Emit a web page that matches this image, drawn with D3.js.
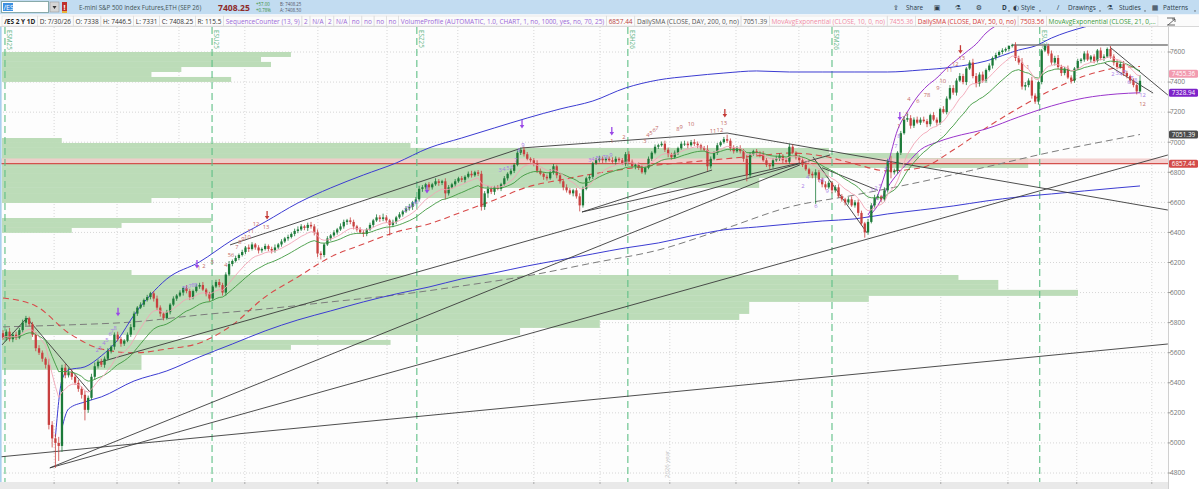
<!DOCTYPE html>
<html>
<head>
<meta charset="utf-8">
<script src="https://cdn.jsdelivr.net/npm/d3@7"></script>
<style>
  body { margin: 0; background: #fff; overflow: hidden; }
  svg { display: block; font-family: "Open Sans", "DejaVu Sans", sans-serif; }
</style>
</head>
<body>
<div id="chart"></div>
<script>
// ---- daily candles (/ES, open = previous close) ----
const firstOpen = 5730;
const closes = [
  5700,5740,5690,5720,5700,5750,5800,5830,5790,5720,
  5630,5600,5560,5520,5120,5030,5000,4980,5500,5450,
  5470,5440,5400,5360,5320,5220,5300,5440,5510,5540,
  5520,5560,5610,5640,5720,5690,5660,5680,5720,5770,
  5860,5900,5920,5950,5970,5995,5960,5900,5860,5830,
  5870,5920,5960,5980,6000,6030,6010,5970,6010,6040,
  6050,6020,5990,5960,6040,6070,6050,6000,6120,6190,
  6210,6230,6250,6270,6300,6290,6320,6300,6280,6290,
  6310,6290,6280,6300,6320,6340,6360,6370,6390,6410,
  6420,6440,6430,6450,6440,6400,6260,6250,6320,6360,
  6380,6400,6420,6440,6470,6480,6470,6440,6420,6400,
  6390,6420,6450,6480,6500,6490,6500,6480,6450,6470,
  6500,6520,6540,6560,6570,6600,6620,6690,6700,6720,
  6700,6720,6740,6730,6740,6660,6700,6720,6740,6760,
  6750,6770,6790,6780,6800,6790,6570,6660,6690,6670,
  6700,6690,6720,6760,6790,6810,6850,6930,6950,6920,
  6890,6880,6860,6810,6790,6770,6760,6800,6840,6780,
  6740,6700,6680,6660,6680,6640,6580,6690,6760,6770,
  6860,6880,6890,6880,6890,6880,6870,6890,6880,6860,
  6920,6870,6840,6850,6830,6800,6830,6890,6930,6970,
  6980,6990,6950,6920,6900,6930,6960,6990,6990,6980,
  7000,6990,6980,6960,6950,6840,6890,6930,6980,7000,
  7020,7010,6960,6940,6960,6940,6890,6780,6920,6940,
  6930,6920,6880,6850,6840,6880,6890,6910,6880,6870,
  6970,6930,6900,6880,6850,6820,6790,6780,6800,6750,
  6720,6700,6730,6680,6700,6640,6620,6600,6620,6580,
  6600,6530,6460,6400,6470,6580,6630,6640,6620,6680,
  6870,6800,6810,6930,7060,7150,7160,7110,7150,7130,
  7150,7140,7120,7180,7150,7130,7220,7200,7290,7360,
  7330,7410,7440,7400,7490,7530,7440,7390,7450,7410,
  7480,7510,7560,7580,7600,7610,7620,7640,7645,7560,
  7530,7370,7380,7410,7310,7270,7400,7610,7640,7590,
  7530,7560,7500,7460,7490,7430,7410,7490,7540,7550,
  7590,7550,7570,7540,7610,7560,7570,7620,7570,7530,
  7500,7520,7460,7440,7410,7380,7338,7408.25
];
// wick length above / below the body, in points
const wickUp = [
  20,15,25,15,20,15,20,15,10,15, 15,20,15,10,40,25,30,40,20,25,
  30,20,15,20,15,25,15,20,25,15, 20,15,20,10,15,20,15,10,15,20,
  15,10,15,10,15,10,15,20,15,10, 15,10,15,10,15,10,20,15,10,15,
  15,20,10,15,10,15,20,15,15,20, 10,15,10,15,10,20,15,10,15,10,
  15,10,15,20,10,15,10,15,10,15, 20,15,10,15,20,15,20,15,10,15,
  10,15,10,20,15,10,20,15,10,15, 15,10,15,10,20,15,25,15,10,15,
  10,15,10,15,20,10,15,20,15,10, 15,10,20,15,10,20,15,10,15,10,
  15,10,15,20,10,15,20,15,20,15, 10,15,10,15,10,15,10,15,15,20,
  15,10,15,20,15,10,15,20,15,10, 15,10,20,15,10,15,20,15,10,15,
  10,15,20,15,10,15,20,15,10,15, 15,20,15,10,15,20,10,15,10,15,
  10,15,20,15,10,15,10,15,20,15, 15,20,15,10,15,30,15,10,15,10,
  15,30,15,20,15,20,15,25,15,10, 15,10,20,15,10,15,20,15,10,15,
  20,15,10,15,20,15,10,15,20,15, 15,20,15,10,15,20,15,10,15,20,
  15,20,15,10,20,15,20,15,10,20, 20,40,15,10,15,20,30,20,15,20,
  15,20,15,10,20,15,10,20,15,20, 20,15,20,15,10,15,25,20,15,20,
  10,15,10,15,10,15,10,5,10,20, 15,30,20,15,25,15,10,10,10,15,
  20,15,20,15,10,20,15,10,15,10, 15,20,10,15,10,20,15,10,20,15,
  20,15,20,15,10,15,10,38.25
];
const wickDn = [
  15,20,15,20,15,10,15,20,15,15, 20,15,20,25,30,60,166,100,40,20,
  15,20,15,20,25,70,20,15,20,15, 15,20,10,15,20,15,20,15,10,15,
  20,15,10,15,10,15,20,15,20,15, 10,15,10,15,10,20,15,20,15,10,
  15,10,15,20,15,10,15,20,20,10, 15,10,15,10,15,20,10,15,20,15,
  10,15,20,15,10,15,10,15,10,15, 15,10,15,20,15,20,25,30,15,10,
  15,10,15,10,15,20,15,20,15,10, 20,15,10,15,10,20,15,15,70,15,
  15,10,15,10,15,20,10,15,20,15, 20,15,10,20,15,40,15,10,15,10,
  15,20,10,15,10,15,25,20,30,15, 20,10,15,10,15,10,15,10,15,15,
  10,15,20,15,10,20,15,10,15,20, 15,20,15,10,20,15,40,15,10,15,
  15,10,15,20,15,10,15,20,15,10, 20,15,10,20,15,10,15,10,15,10,
  15,10,15,20,15,10,15,10,15,20, 10,15,20,15,10,30,15,10,15,10,
  10,15,20,15,10,15,20,40,15,10, 15,20,10,15,20,15,10,15,20,15,
  15,10,15,20,15,10,15,20,190,15, 20,15,10,20,15,10,15,20,15,10,
  15,20,15,35,15,10,20,15,20,15, 15,40,15,20,15,10,15,20,15,10,
  15,10,20,15,10,20,15,10,15,10, 15,20,10,15,20,10,15,25,20,15,
  15,10,20,15,10,15,10,15,10,20, 15,20,25,15,20,15,20,15,10,15,
  15,20,15,20,15,10,20,15,10,15, 15,10,20,15,10,15,20,10,15,20,
  15,10,20,15,20,15,20,7
];

// ---- studies: [bar index, price] ----
const sma50 = [[0,5964],[10,5911],[20,5732],[30,5625],[40,5599],[50,5625],[60,5665],[70,5785],[80,5971],[90,6104],
  [100,6237],[110,6323],[120,6403],[130,6456],[140,6536],[150,6616],[160,6702],[170,6749],[180,6789],[190,6822],
  [200,6849],[210,6869],[220,6889],[230,6909],[240,6928],[250,6909],[260,6855],[270,6809],[280,6829],[290,6948],
  [300,7095],[310,7228],[320,7347],[330,7440],[340,7494],[347,7503.56]];
const sma200 = [[0,5772],[20,5785],[40,5805],[60,5851],[80,5891],[100,5938],[120,5984],[140,6044],[160,6111],
  [180,6197],[200,6283],[220,6423],[240,6569],[260,6649],[280,6736],[300,6835],[320,6935],[340,7022],[347,7051.39]];
const blueUpper = [[16,5040],[18,5419],[20,5486],[25,5506],[30,5579],[35,5685],[40,5851],[45,5984],[50,6091],
  [60,6204],[70,6350],[80,6470],[90,6596],[100,6696],[110,6782],[120,6862],[130,6962],[140,7028],[150,7095],
  [160,7161],[170,7221],[180,7274],[190,7361],[200,7414],[210,7440],[220,7460],[230,7474],[240,7467],[250,7467],
  [260,7467],[270,7467],[280,7480],[290,7500],[300,7540],[310,7613],[315,7640],[320,7693],[330,7766],[340,7813],[347,7846]];
const blueLower = [[18,5100],[20,5226],[25,5273],[30,5306],[40,5412],[50,5479],[60,5572],[70,5658],[80,5745],
  [90,5818],[100,5878],[110,5938],[120,5991],[130,6037],[140,6091],[150,6131],[160,6177],[170,6217],[180,6257],
  [190,6297],[200,6330],[210,6377],[220,6417],[230,6436],[240,6456],[250,6476],[260,6490],[270,6523],[280,6549],
  [290,6576],[300,6609],[310,6636],[320,6656],[330,6676],[340,6696],[347,6709]];
const purpleUpper = [[264,6516],[267,6649],[270,6849],[273,7081],[276,7201],[279,7301],[282,7374],[285,7427],
  [288,7493],[291,7547],[294,7600],[297,7653],[300,7726],[305,7800],[310,7866]];
const purpleLower = [[264,6500],[267,6580],[270,6700],[273,6790],[276,6860],[280,6950],[285,7000],[290,7035],
  [300,7088],[310,7168],[320,7241],[330,7294],[340,7321],[347,7328.94]];

// ---- volume profile rows (price from / to, relative volume) ----
const vpLo = [7567,7534,7500,7467,7434,7401,6995,6962,6928,6895,6862,6829,6795,6762,6729,6696,6662,6629,6596,
  6463,6430,6397,6117,6084,6051,6018,5978,5938,5898,5858,5818,5765,5718,5685,5652,5619,5585,5519,5486];
const vpHi = [7600,7567,7534,7500,7467,7434,7028,6995,6962,6928,6895,6862,6829,6795,6762,6729,6696,6662,6629,
  6496,6463,6430,6150,6117,6084,6051,6018,5978,5938,5898,5858,5818,5765,5718,5685,5652,5619,5585,5519];
const vpVol = [29,26,27,18,15,23,6,41,83,92,103,103,83,83,76,76,48,48,15,21,12,7,13,96,100,100,108,87,75,75,74,60,52,3,39,29,21,14,14];
const pocPrice = 6857.44;

// ---- drawings: [index1, price1, index2, price2] ----
const trendLines = [
  [-1,4907,355.5,5658],[14.3,4834,243.2,6849],[14.3,4834,355.5,6915],[-0.3,5652,7.3,5831],[7.3,5831,26.5,5339],
  [28.7,5532,252.4,6915],[69.3,6317,158.4,6962],[158.4,6962,221,7061],[221,7061,355.5,6549],
  [176.7,6536,216.4,6815],[176.7,6536,243.2,6862],[247.2,6902,263.7,6397],[250,6830,267,6680],
  [337.8,7633,355.5,7314],[336.2,7527,351,7327]
];
const resistance = [307.9, 7647, 355.5, 7647];

// ---- sequence counter marks: [index, price, text, kind] ----
const seqMarks = [
  [59.8,6150,"1","b"],[61.3,6164,"2","b"],[63.8,6190,"3","b"],[68,6170,"4","b"],[69.6,6237,"56","b"],[71.4,6290,"7","b"],
  [72.3,6323,"8","b"],[73.2,6343,"9","b"],[74.6,6357,"10","b"],[75.6,6395,"11","b"],[77.2,6440,"12","b"],[80.3,6423,"13","b"],
  [80.6,6510,"","ra"],
  [28.7,5605,"2","p"],[29.6,5618,"3","p"],[30.8,5652,"4","p"],[31.7,5672,"5","p"],[32.7,5712,"6","p"],[33.3,5732,"7","p"],[34.2,5752,"8","p"],
  [35.1,5865,"","pa"],
  [55.2,6018,"5","p"],[56.1,6024,"6","p"],[57.1,6031,"7","p"],[58,6037,"8","p"],[58.9,6037,"9","p"],[59.2,6184,"","pa"],
  [122.7,6536,"2","p"],[123.6,6550,"3","p"],[124.5,6563,"4","p"],[125.4,6576,"5","p"],[126.3,6590,"6","p"],[129.4,6682,"","pa"],
  [151.7,6802,"3","p"],[152.9,6809,"4","p"],[154.1,6815,"5","p"],[155.3,6822,"6","p"],[156.5,6869,"7","p"],[157.5,6935,"8","p"],[158.7,6968,"9","p"],
  [158.4,7115,"","pa"],
  [179.1,6869,"3","p"],[180,6875,"4","p"],[181.3,6882,"5","p"],[182.2,6882,"6","p"],[183.4,6889,"7","p"],[184.3,6889,"8","p"],[185.5,6902,"9","p"],
  [185.8,7068,"","pa"],
  [185.8,6995,"1","b"],[189.5,7022,"2","b"],[195.9,6995,"3","b"],[196.8,7035,"4","b"],[197.7,7048,"5","b"],[198.7,7068,"6","b"],
  [199.6,7081,"7","b"],[206,7075,"8","b"],[207,7088,"9","b"],[210,7108,"10","b"],[216.7,7061,"11","b"],[218.8,7068,"12","b"],
  [220,7115,"13","b"],[220.3,7188,"","ra"],
  [244.1,6696,"2","p"],[245.6,6755,"4","p"],[248.1,6563,"6","p"],[249.3,6729,"7","p"],[250.2,6735,"8","p"],[251.5,6662,"9","p"],
  [265.2,6669,"1","p"],[266.4,6682,"2","p"],[267.6,6696,"3","p"],[269.5,6815,"4","p"],[270.4,6862,"5","p"],[272.5,6962,"7","p"],
  [273.4,7028,"8","p"],[273.7,7168,"","pa"],
  [273.4,7095,"1","b"],[274.9,7148,"2","b"],[275.9,7175,"3","b"],[276.5,7274,"4","b"],[279.2,7261,"6","b"],[282,7301,"78","b"],
  [285.3,7347,"9","b"],[286.8,7394,"10","b"],[288.8,7470,"11","b"],[290.6,7508,"12","b"],[292.6,7548,"13","b"],[292.2,7612,"","ra"],
  [312.8,7487,"1","b"],
  [338.7,7440,"2","p"],[340,7447,"3","p"],[341.2,7440,"4","p"],[342.4,7454,"5","p"],[343.6,7387,"6","p"],[344.5,7414,"7","p"],
  [345.7,7401,"8","p"],[347.8,7301,"12","p"],[347.8,7241,"12","b"]
];

// ---- axis / calendar ----
const priceTicks = [4800,5000,5200,5400,5600,5800,6000,6200,6400,6600,6800,7000,7200,7400,7600];
const monthIdx = [15.6,34.8,53.7,73.8,96.1,117.2,138.8,162,182.2,203.5,223.7,242.9,264,286.2,306.7,327.7,350.6];
const rollIdx = [0.6,63.8,126.3,190.7,253,316.4];
const rollNames = ["ESM25","ESU25","ESZ25","ESH26","ESM26","ESU26"];
const yearIdx = 202.6;
const priceTags = [[7455.36,"#f29bb0"],[7328.94,"#7d22c9"],[7051.39,"#4b4b4b"],[6857.44,"#d34a48"]];

const W = 1199, H = 489;
const plotR = 1168, plotT = 27, plotB = 482;

const svg = d3.select("#chart").append("svg").attr("width", W).attr("height", H);

const x = d3.scaleLinear().domain([0, closes.length - 1]).range([3, 1140]);
const y = d3.scaleLinear().domain([4800, 7600]).range([473, 52]);
const step = x(1) - x(0);

svg.append("defs").append("clipPath").attr("id", "plot")
  .append("rect").attr("x", 0).attr("y", plotT).attr("width", plotR).attr("height", plotB - plotT);

svg.append("rect").attr("width", W).attr("height", H).attr("fill", "#fff");
svg.append("rect").attr("x", 0).attr("y", plotT).attr("width", plotR).attr("height", plotB - plotT).attr("fill", "#fdfdfd");

const plot = svg.append("g").attr("clip-path", "url(#plot)");

// grid
plot.selectAll(".hg").data(priceTicks).enter().append("line")
  .attr("x1", 0).attr("x2", plotR).attr("y1", d => y(d)).attr("y2", d => y(d))
  .attr("stroke", "#d6d6d6").attr("stroke-dasharray", "1,2");
plot.selectAll(".vg").data(monthIdx).enter().append("line")
  .attr("x1", d => x(d)).attr("x2", d => x(d)).attr("y1", plotT).attr("y2", plotB)
  .attr("stroke", "#d6d6d6").attr("stroke-dasharray", "1,2");

// volume profile
const vpX = d3.scaleLinear().domain([0, d3.max(vpVol)]).range([0, 1076]);
plot.selectAll(".vp").data(vpVol).enter().append("rect")
  .attr("x", 2).attr("y", (d, i) => y(vpHi[i]))
  .attr("width", d => vpX(d)).attr("height", (d, i) => y(vpLo[i]) - y(vpHi[i]))
  .attr("fill", "#bcdcb8");

// point of control
plot.append("rect").attr("x", 0).attr("width", plotR)
  .attr("y", y(6892)).attr("height", y(pocPrice) - y(6892))
  .attr("fill", "#f3cccb").attr("opacity", 0.9);
plot.append("line").attr("x1", 0).attr("x2", plotR)
  .attr("y1", y(pocPrice)).attr("y2", y(pocPrice))
  .attr("stroke", "#d4504c").attr("stroke-width", 1.2);

// contract rollover lines
plot.selectAll(".roll").data(rollIdx).enter().append("line")
  .attr("x1", d => x(d)).attr("x2", d => x(d)).attr("y1", plotT).attr("y2", plotB)
  .attr("stroke", "#5fbf86").attr("stroke-width", 1.1).attr("stroke-dasharray", "7,4");
plot.selectAll(".rollt").data(rollIdx).enter().append("text")
  .attr("transform", d => `translate(${x(d) + 2},${plotT + 3}) rotate(90)`)
  .attr("font-size", 6.3).attr("fill", "#69b98c").text((d, i) => rollNames[i]);
plot.append("text")
  .attr("transform", `translate(${x(yearIdx) + 2},${plotB - 4}) rotate(-90)`)
  .attr("font-size", 6).attr("fill", "#bdbdbd").text("2026 year");

// studies
const lineP = d3.line().x(d => x(d[0])).y(d => y(d[1])).curve(d3.curveMonotoneX);
function study(data, color, dash, w) {
  plot.append("path").datum(data).attr("d", lineP).attr("fill", "none")
    .attr("stroke", color).attr("stroke-width", w || 1)
    .attr("stroke-dasharray", dash || null);
}
study(sma200, "#7c7c7c", "7,4", 1);
study(sma50, "#d84a4a", "6,4", 1.1);
study(blueUpper, "#3c3cd2");
study(blueLower, "#3c3cd2");
study(purpleUpper, "#9a35cc");
study(purpleLower, "#9a35cc");

// drawings
plot.selectAll(".tl").data(trendLines).enter().append("line")
  .attr("x1", d => x(d[0])).attr("y1", d => y(d[1])).attr("x2", d => x(d[2])).attr("y2", d => y(d[3]))
  .attr("stroke", "#3a3a3a").attr("stroke-width", 0.9);
plot.append("line")
  .attr("x1", x(resistance[0])).attr("y1", y(resistance[1])).attr("x2", x(resistance[2])).attr("y2", y(resistance[3]))
  .attr("stroke", "#7a7a7a").attr("stroke-width", 1.6);

// candles
const bars = closes.map((c, i) => {
  const o = i ? closes[i - 1] : firstOpen;
  return { i, o, c, h: Math.max(o, c) + wickUp[i], l: Math.min(o, c) - wickDn[i] };
});
const upCol = "#1c7a39", dnCol = "#c8403f";
const cg = plot.append("g");
cg.selectAll(".wick").data(bars).enter().append("line")
  .attr("x1", d => x(d.i)).attr("x2", d => x(d.i))
  .attr("y1", d => y(d.h)).attr("y2", d => y(d.l))
  .attr("stroke", d => d.c >= d.o ? upCol : dnCol).attr("stroke-width", 0.8);
const bw = step * 0.7;
cg.selectAll(".body").data(bars).enter().append("rect")
  .attr("x", d => x(d.i) - bw / 2).attr("width", bw)
  .attr("y", d => y(Math.max(d.o, d.c)))
  .attr("height", d => Math.max(0.8, Math.abs(y(d.o) - y(d.c))))
  .attr("fill", d => d.c >= d.o ? upCol : dnCol);

// EMAs computed from the closes (study definition: EMA of CLOSE)
function ema(arr, n) {
  const k = 2 / (n + 1), out = [];
  arr.forEach((v, i) => out.push(i ? v * k + out[i - 1] * (1 - k) : v));
  return out;
}
const lineE = d3.line().x((d, i) => x(i)).y(d => y(d));
plot.append("path").datum(ema(closes, 21)).attr("d", lineE).attr("fill", "none")
  .attr("stroke", "#3e993e").attr("stroke-width", 0.9);
plot.append("path").datum(ema(closes, 10)).attr("d", lineE).attr("fill", "none")
  .attr("stroke", "#f2a5b6").attr("stroke-width", 0.9);

// sequence counter
const sg = plot.append("g");
seqMarks.forEach(m => {
  const px = x(m[0]), py = y(m[1]);
  if (m[3] === "pa" || m[3] === "ra") {
    const col = m[3] === "pa" ? "#9a48e6" : "#c43a36";
    sg.append("line").attr("x1", px).attr("x2", px).attr("y1", py - 5).attr("y2", py + 1)
      .attr("stroke", col).attr("stroke-width", 1.3);
    sg.append("path").attr("d", `M${px - 2.3},${py} L${px + 2.3},${py} L${px},${py + 3.5} Z`).attr("fill", col);
  } else {
    sg.append("text").attr("x", px).attr("y", py).attr("text-anchor", "middle")
      .attr("font-size", 5.8).attr("fill", m[3] === "p" ? "#a57ae6" : "#c46a66").text(m[2]);
  }
});

// left edge
svg.append("rect").attr("x", 0).attr("y", plotT).attr("width", 1.6).attr("height", plotB - plotT).attr("fill", "#a9d0ef");

// bottom time strip
svg.append("rect").attr("x", 0).attr("y", plotB).attr("width", plotR).attr("height", H - plotB).attr("fill", "#e9e9e9");
svg.selectAll(".bt").data(monthIdx).enter().append("line")
  .attr("x1", d => x(d)).attr("x2", d => x(d)).attr("y1", plotB).attr("y2", plotB + 2)
  .attr("stroke", "#aaa");

// right price axis
svg.append("rect").attr("x", plotR).attr("y", plotT).attr("width", W - plotR).attr("height", H - plotT).attr("fill", "#fff");
svg.append("line").attr("x1", plotR + 0.5).attr("x2", plotR + 0.5).attr("y1", plotT).attr("y2", H).attr("stroke", "#d0d0d0");
const ax = svg.append("g");
ax.selectAll(".tk").data(priceTicks).enter().append("line")
  .attr("x1", plotR).attr("x2", plotR + 3).attr("y1", d => y(d)).attr("y2", d => y(d)).attr("stroke", "#999");
ax.selectAll(".tt").data(priceTicks).enter().append("text")
  .attr("x", plotR + 2).attr("y", d => y(d) + 2.3).attr("font-size", 6.6).attr("fill", "#777")
  .text(d => d);
const tg = svg.selectAll(".tag").data(priceTags).enter().append("g");
tg.append("rect").attr("x", plotR + 1).attr("y", d => y(d[0]) - 4).attr("width", 29).attr("height", 8)
  .attr("rx", 1.5).attr("fill", d => d[1]);
tg.append("text").attr("x", plotR + 15.5).attr("y", d => y(d[0]) + 2.3).attr("text-anchor", "middle")
  .attr("font-size", 6.3).attr("fill", "#fff").text(d => d[0].toFixed(2));

// ---- header ----
const hd = svg.append("g");
hd.append("rect").attr("width", W).attr("height", 14.5).attr("fill", "#c2dcf1");
hd.append("rect").attr("y", 14.5).attr("width", W).attr("height", plotT - 14.5).attr("fill", "#fbfbfb");
hd.append("line").attr("x1", 0).attr("x2", W).attr("y1", plotT - 0.5).attr("y2", plotT - 0.5).attr("stroke", "#d8d8d8");

// symbol box
hd.append("rect").attr("x", 1.5).attr("y", 1.5).attr("width", 47).attr("height", 11).attr("fill", "#fff").attr("stroke", "#8aa");
hd.append("rect").attr("x", 3).attr("y", 3).attr("width", 10).attr("height", 8).attr("fill", "#3d8fe0");
hd.append("text").attr("x", 3.5).attr("y", 10).attr("font-size", 7).attr("fill", "#fff").text("/ES");
hd.append("rect").attr("x", 50).attr("y", 2).attr("width", 9).attr("height", 10).attr("fill", "#d5d5d5").attr("stroke", "#999").attr("stroke-width", 0.6);
hd.append("path").attr("d", "M52.5,6 L56.5,6 L54.5,9 Z").attr("fill", "#333");
hd.append("rect").attr("x", 62).attr("y", 2).attr("width", 5).attr("height", 9).attr("fill", "#c0302c");
hd.append("text").attr("x", 64.5).attr("y", 9.5).attr("text-anchor", "middle").attr("font-size", 7).attr("font-weight", "bold").attr("fill", "#fff").text("!");
hd.append("rect").attr("x", 62).attr("y", 11).attr("width", 5).attr("height", 2).attr("fill", "#e7b43c");
hd.append("text").attr("x", 79).attr("y", 9.6).attr("font-size", 6.2).attr("fill", "#455").text("E-mini S&P 500 Index Futures,ETH (SEP 26)");
hd.append("text").attr("x", 218).attr("y", 10.6).attr("font-size", 8.6).attr("font-weight", "bold").attr("fill", "#8e2a2a").text("7408.25");
hd.append("text").attr("x", 256).attr("y", 6.2).attr("font-size", 4.4).attr("fill", "#3a8f3a").text("+57.00");
hd.append("text").attr("x", 256).attr("y", 11.8).attr("font-size", 4.4).attr("fill", "#3a8f3a").text("+0.78%");
hd.append("text").attr("x", 280).attr("y", 6.2).attr("font-size", 4.4).attr("fill", "#556").text("B: 7408.25");
hd.append("text").attr("x", 280).attr("y", 11.8).attr("font-size", 4.4).attr("fill", "#556").text("A: 7408.50");

// toolbar
const tb = [[906, "Share"], [1021, "Style"], [1068, "Drawings"], [1119, "Studies"], [1163, "Patterns"]];
hd.selectAll(".tb").data(tb).enter().append("text")
  .attr("x", d => d[0]).attr("y", 9.8).attr("font-size", 6.4).attr("fill", "#2c3b48").text(d => d[1]);
[[896, "⇪"], [937, "▣"], [958, "⚗"], [979, "⚙"], [1016, "◐"], [1058, "/"], [1110, "⚗"], [1155, "▦"]].forEach(ic => {
  hd.append("text").attr("x", ic[0]).attr("y", 10).attr("font-size", 7).attr("fill", "#2f3d4a")
    .attr("text-anchor", "middle").text(ic[1]);
});
hd.append("text").attr("x", 1002).attr("y", 9.8).attr("font-size", 6.4).attr("font-weight", "bold").attr("fill", "#2c3b48").text("D");
[1008, 1039, 1099, 1144, 1194].forEach(cx => {
  hd.append("path").attr("d", `M${cx},10.5 L${cx + 2},10.5 L${cx + 1},12 Z`).attr("fill", "#555");
});

// study bar
const items = [
  ["/ES 2 Y 1D", "#222", true], ["D: 7/30/26", "#333"], ["O: 7338", "#333"], ["H: 7446.5", "#333"], ["L: 7331", "#333"],
  ["C: 7408.25", "#333"], ["R: 115.5", "#333"], ["SequenceCounter (13, 9)", "#9b6ad8"], ["2", "#9b6ad8"], ["N/A", "#9b6ad8"],
  ["2", "#9b6ad8"], ["N/A", "#9b6ad8"], ["no", "#9b6ad8"], ["no", "#9b6ad8"], ["no", "#9b6ad8"], ["no", "#9b6ad8"],
  ["VolumeProfile (AUTOMATIC, 1.0, CHART, 1, no, 1000, yes, no, 70, 25)", "#9b6ad8"], ["6857.44", "#b9433e"],
  ["DailySMA (CLOSE, DAY, 200, 0, no)", "#555"], ["7051.39", "#555"],
  ["MovAvgExponential (CLOSE, 10, 0, no)", "#f08ea6"], ["7455.36", "#f08ea6"],
  ["DailySMA (CLOSE, DAY, 50, 0, no)", "#d23a3a"], ["7503.56", "#d23a3a"],
  ["MovAvgExponential (CLOSE, 21, 0,...", "#3d9a3d"]
];
const pad = 2.2, rowX0 = 2, rowX1 = 1160;
const probe = hd.append("g");
let total = 0;
items.forEach(it => {
  const t = probe.append("text").attr("font-size", 10).attr("font-weight", it[2] ? "bold" : null).text(it[0]);
  total += t.node().getComputedTextLength();
});
probe.remove();
const fs = 10 * (rowX1 - rowX0 - items.length * 2 * pad) / total;
let cx = rowX0;
items.forEach(it => {
  const t = hd.append("text").attr("x", cx + pad).attr("y", 23.8).attr("font-size", fs)
    .attr("font-weight", it[2] ? "bold" : null).attr("fill", it[1]).text(it[0]);
  const w = t.node().getComputedTextLength() + 2 * pad;
  hd.append("rect").attr("x", cx).attr("y", 16).attr("width", w).attr("height", 10)
    .attr("fill", "none").attr("stroke", "#dcdcdc").attr("stroke-width", 0.6);
  cx += w;
});
hd.append("path").attr("d", "M1167,18 L1175,18 M1168,25 L1175,19 M1172,19 L1175,19 L1175,22 M1167,25 L1175,25")
  .attr("stroke", "#444").attr("fill", "none").attr("stroke-width", 0.8);
</script>
</body>
</html>
